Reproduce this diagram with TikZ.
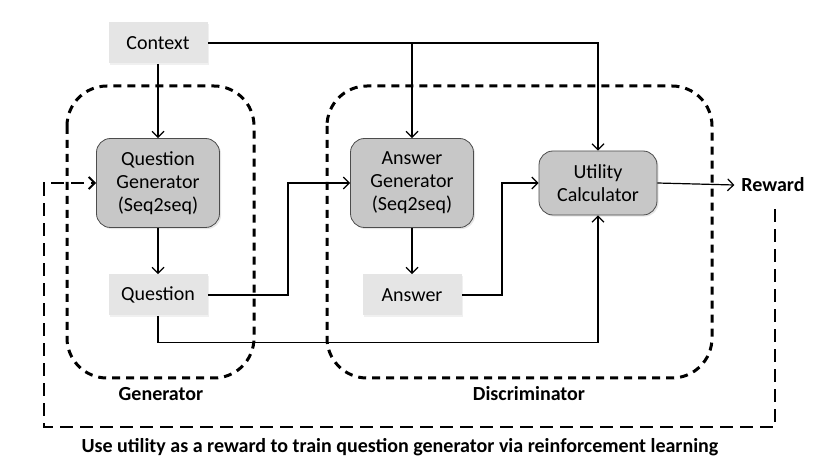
\documentclass[tikz,border=0pt]{standalone}
\usepackage{fontspec}
\setmainfont{Carlito}
\usetikzlibrary{arrows.meta,shadows}

\begin{document}
\begin{tikzpicture}[x=0.5pt,y=-0.5pt]
    \tikzstyle{every node}=[font=\fontsize{10}{11.5}\selectfont]
    \tikzstyle{model}=[rectangle, rounded corners=7pt, draw=black!70, fill=black!22, align=center, minimum width=61.5pt, minimum height=44.5pt, drop shadow={opacity=0.2, shadow xshift=0.8pt, shadow yshift=-0.8pt}]
    \tikzstyle{io}=[rectangle, fill=black!10, minimum width=49.5pt, minimum height=20.5pt, drop shadow={opacity=0.12, shadow xshift=0.8pt, shadow yshift=-0.8pt}]
    \tikzstyle{stage}=[draw, line width=1.5pt, rounded corners=20pt, dash pattern=on 4pt off 3pt]
    \tikzstyle{flow}=[-{Straight Barb[length=3pt,width=6pt]}, line width=0.6pt]
    \tikzstyle{feedback}=[-{Straight Barb[length=3pt,width=6pt]}, line width=1pt, dash pattern=on 6.5pt off 3.5pt]
    \tikzstyle{tag}=[font=\fontsize{10}{12}\selectfont\bfseries]
    \useasboundingbox (0,0) rectangle (821,465);
    % boxes
    \node[io] (context) at (158,43) {Context};
    \node[model] (qgen) at (158,183) {Question\\Generator\\(Seq2seq)};
    \node[io] (question) at (158,295) {Question};
    \node[model] (agen) at (412,183) {Answer\\Generator\\(Seq2seq)};
    \node[io] (answer) at (412,295) {Answer};
    \node[model, minimum width=59pt, minimum height=32pt] (util) at (598,183) {Utility\\Calculator};
    \node[tag] (reward) at (773,185) {Reward};
    % groups
    \draw[stage] (67,86) rectangle (254,378);
    \draw[stage] (327,86) rectangle (712,378);
    \node[tag] (gentag) at (161,394) {Generator};
    \node[tag] (disctag) at (529,394) {Discriminator};
    % connectors
    \coordinate (split) at (agen.north |- context.east);
    \coordinate (qturn) at (288,295);
    \coordinate (aturn) at (502,295);
    \draw[flow] (context) -- (qgen);
    \draw[flow] (context.east) -| (util.north);
    \draw[flow] (split) -- (agen.north);
    \draw[flow] (qgen) -- (question);
    \draw[flow] (agen) -- (answer);
    \draw[flow] (question.east) -- (qturn) |- (agen.west);
    \draw[flow] (answer.east) -- (aturn) |- (util.west);
    \draw[flow] (question.south) -- ++(0,27) -| (util.south);
    \draw[flow] (util.east) -- (reward.west);
    \coordinate (loopend) at (775,427);
    \coordinate (loopleft) at (44,427);
    \draw[feedback] (reward.south) ++(2,10) -- (loopend) -- (loopleft) |- (qgen.west);
    \node[tag] (note) at (400,447) {Use utility as a reward to train question generator via reinforcement learning};
\end{tikzpicture}
\end{document}
